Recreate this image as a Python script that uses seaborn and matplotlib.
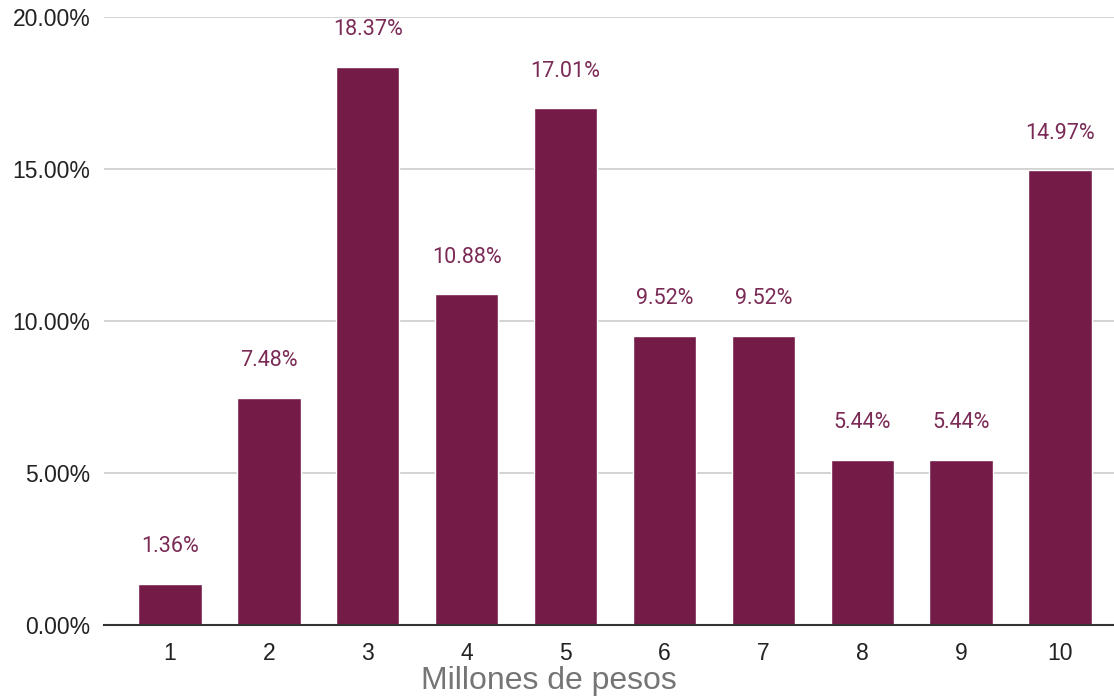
import matplotlib
matplotlib.use("Agg")
import matplotlib.pyplot as plt
import seaborn as sns
import pandas as pd
from matplotlib.ticker import FuncFormatter

categories = ["1", "2", "3", "4", "5", "6", "7", "8", "9", "10"]
values = [1.36, 7.48, 18.37, 10.88, 17.01, 9.52, 9.52, 5.44, 5.44, 14.97]
yticks = [0, 5, 10, 15, 20]
xlabel = "Millones de pesos"

bar_color = "#741b47"

sns.set_theme(style="white")
plt.rcParams["font.family"] = ["Liberation Sans", "DejaVu Sans"]

df = pd.DataFrame({"cat": categories, "val": values})

fig = plt.figure(figsize=(11.14, 6.97), dpi=100)
ax = fig.add_axes([0.0934, 0.1033, 0.9066, 0.8723])

sns.barplot(data=df, x="cat", y="val", color=bar_color, saturation=1,
            width=0.64, ax=ax, zorder=3)

ax.set_ylim(0, 20)
ax.set_xlim(-0.667, 9.546)
ax.set_yticks(yticks)
ax.yaxis.set_major_formatter(FuncFormatter(lambda v, p: f"{v:.2f}%"))
ax.grid(axis="y", color="#cccccc", linewidth=1.2, zorder=0)
ax.set_axisbelow(True)

for s in ["top", "right", "left"]:
    ax.spines[s].set_visible(False)
ax.spines["bottom"].set_color("#333333")
ax.spines["bottom"].set_linewidth(1.5)
ax.spines["bottom"].set_zorder(4)

ax.tick_params(axis="y", length=0, pad=10, labelsize=16.5, labelcolor="#222222")
ax.tick_params(axis="x", length=0, pad=12, labelsize=16.5, labelcolor="#222222")

ax.set_xlabel("")
ax.set_ylabel("")
fig.text(549 / 1114, 1 - 681 / 697, xlabel, fontsize=23, color="#757575",
         ha="center", va="center")

for i, v in enumerate(values):
    ax.annotate(f"{v:.2f}%", xy=(i, v), xytext=(0, 26.5), textcoords="offset points",
                ha="center", va="center", fontsize=15.5, color="#7a2a55",
                family=["Roboto", "DejaVu Sans"])

fig.savefig("out.png", dpi=100)
